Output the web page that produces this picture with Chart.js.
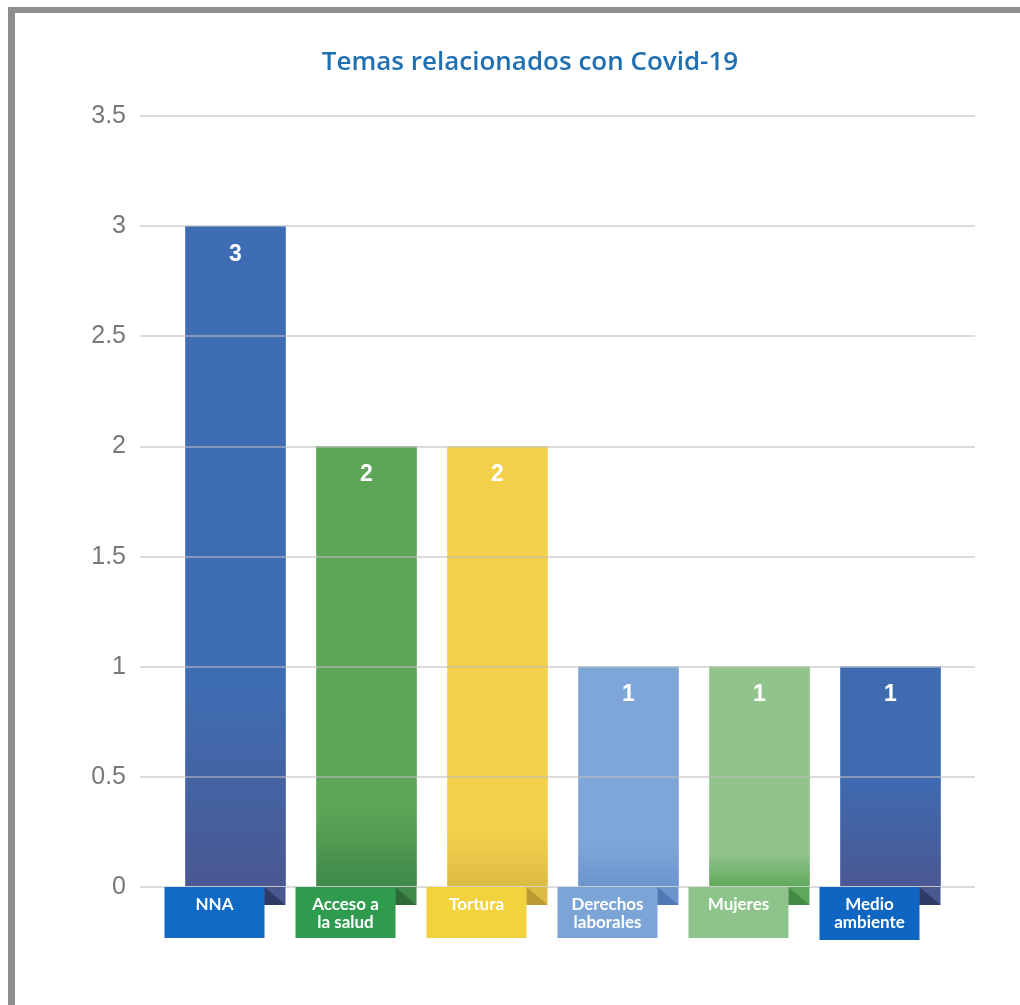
<!DOCTYPE html>
<html>
<head>
<meta charset="utf-8">
<script src="https://cdn.jsdelivr.net/npm/chart.js@4.4.1/dist/chart.umd.min.js"></script>
<style>
    body { margin: 0; background: #fff; }
    #wrap { position: relative; width: 1020px; height: 1005px; overflow: hidden; }
    #frame {
        position: absolute; left: 8px; top: 7px; width: 1020px; height: 995px;
        border-top: 6px solid #8e8e8e; border-left: 7px solid #8e8e8e;
        border-bottom: 1px solid #e2e2e2;
    }
    canvas { position: absolute; left: 0; top: 0; }
</style>
</head>
<body>
<div id="wrap">
    <div id="frame"></div>
    <canvas id="chartCanvas" width="1020" height="1005"></canvas>
</div>
<script>
// data
const categories = [['NNA'], ['Acceso a', 'la salud'], ['Tortura'], ['Derechos', 'laborales'], ['Mujeres'], ['Medio', 'ambiente']]
const values = [3, 2, 2, 1, 1, 1]
const yMax = 3.5
const yStep = 0.5

// styles for each bar
const topColors = ['#3f6db3', '#5da556', '#f2d04c', '#7ea6d8', '#91c38c', '#3f6bb1']
const bottomColors = ['#4a5892', '#3f894a', '#dcbb44', '#6b94cd', '#5ea85b', '#4a5892']
const foldColors = ['#2d3b67', '#2e6a39', '#b99b31', '#4f78b4', '#408a45', '#2d3b67']
const labelColors = ['#1069c4', '#2f9b4e', '#f3d240', '#7ca4d7', '#8ec48b', '#0f66c2']
const fadeStart = [0.9, 0.35, 0.25, 0.2, 0.15, 0.5]

const gridColor = 'rgba(190,190,190,0.55)'

function barFill(ctx){
    const chart = ctx.chart
    const i = ctx.dataIndex
    if(!chart.chartArea || i === undefined) return topColors[i || 0]
    const y = chart.scales.y
    const g = chart.ctx.createLinearGradient(0, y.getPixelForValue(fadeStart[i]), 0, y.getPixelForValue(0))
    g.addColorStop(0, topColors[i])
    g.addColorStop(1, bottomColors[i])
    return g
}

const overlayPlugin = {
    id: 'overlay',
    afterDraw(chart){
        const ctx = chart.ctx
        const xs = chart.scales.x
        const ys = chart.scales.y
        const meta = chart.getDatasetMeta(0)
        const y0 = ys.getPixelForValue(0)

        // grid lines run a little past the right edge of the plot
        ctx.save()
        ctx.strokeStyle = gridColor
        ctx.lineWidth = 2
        for(let v = 0; v <= yMax + 1e-9; v += yStep){
            const py = Math.round(ys.getPixelForValue(v))
            ctx.beginPath()
            ctx.moveTo(chart.chartArea.right, py)
            ctx.lineTo(chart.chartArea.right + 19, py)
            ctx.stroke()
        }
        ctx.restore()

        meta.data.forEach((bar, i) => {
            const cx = xs.getPixelForValue(i)
            const half = bar.width / 2
            const boxLeft = cx - half - 21
            const boxRight = boxLeft + bar.width

            // folded bit of the bar under the label
            ctx.fillStyle = bottomColors[i]
            ctx.fillRect(cx - half, y0, bar.width, 18)
            ctx.fillStyle = foldColors[i]
            ctx.beginPath()
            ctx.moveTo(boxRight, y0)
            ctx.lineTo(cx + half, y0 + 18)
            ctx.lineTo(boxRight, y0 + 18)
            ctx.closePath()
            ctx.fill()

            // label box
            ctx.fillStyle = labelColors[i]
            ctx.fillRect(boxLeft, y0, bar.width, i === 5 ? 53 : 51)
            ctx.fillStyle = '#fff'
            ctx.font = 'bold 17px Lato'
            ctx.textAlign = 'center'
            ctx.textBaseline = 'middle'
            categories[i].forEach((line, k) => {
                ctx.fillText(line, (boxLeft + boxRight) / 2, y0 + 18 + k * 18)
            })

            // value label
            ctx.font = 'bold 23px "Liberation Sans"'
            ctx.fillText(String(values[i]), bar.x, bar.y + 28)
        })
    }
}

const config = {
    type: 'bar',
    data: {
        labels: categories.map(c => c.join(' ')),
        datasets: [{
            data: values,
            backgroundColor: barFill,
            borderWidth: 0,
            barThickness: 100
        }]
    },
    options: {
        responsive: false,
        animation: false,
        devicePixelRatio: 1,
        layout: { padding: { top: 0, right: 0, bottom: 0, left: 40 } },
        plugins: {
            legend: { display: false },
            tooltip: { enabled: false },
            title: {
                display: true,
                text: 'Temas relacionados con Covid-19',
                color: '#1f6fb3',
                font: { family: 'Open Sans', size: 26, weight: '600' },
                padding: { top: 47, bottom: 38 }
            }
        },
        scales: {
            x: {
                ticks: { display: false },
                grid: { display: false },
                border: { display: false },
                afterFit: s => { s.height = 118 }
            },
            y: {
                min: 0,
                max: yMax,
                ticks: {
                    stepSize: yStep,
                    color: '#787878',
                    padding: 14,
                    font: { family: 'Liberation Sans', size: 25 },
                    callback: v => String(v)
                },
                grid: { color: gridColor, lineWidth: 2, tickLength: 30, z: 1 },
                border: { display: false },
                afterFit: s => { s.width = 130 }
            },
            // empty axis that only keeps the space on the right
            yRight: {
                position: 'right',
                ticks: { display: false },
                grid: { display: false },
                border: { display: false },
                afterFit: s => { s.width = 64 }
            }
        }
    },
    plugins: [overlayPlugin]
}

new Chart(document.getElementById('chartCanvas'), config)
</script>
</body>
</html>
